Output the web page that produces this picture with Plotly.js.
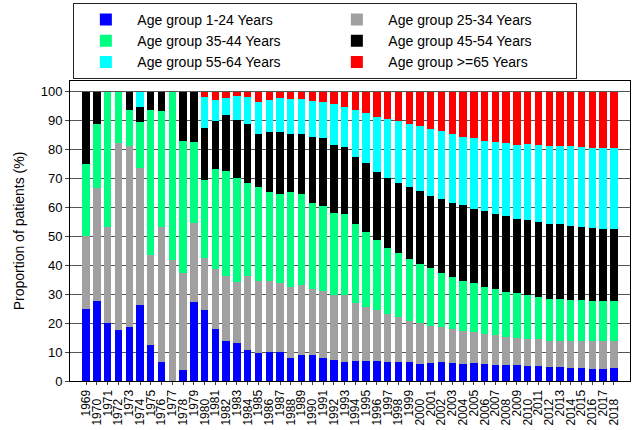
<!DOCTYPE html>
<html>
<head>
<meta charset="utf-8">
<script src="https://cdn.plot.ly/plotly-3.0.1.min.js"></script>
<style>
  html, body { margin: 0; padding: 0; background: #fff; }
  #chart { width: 639px; height: 430px; }
</style>
</head>
<body>
<div id="chart"></div>
<script>
const years = [1969,1970,1971,1972,1973,1974,1975,1976,1977,1978,
               1979,1980,1981,1982,1983,1984,1985,1986,1987,1988,
               1989,1990,1991,1992,1993,1994,1995,1996,1997,1998,
               1999,2000,2001,2002,2003,2004,2005,2006,2007,2008,
               2009,2010,2011,2012,2013,2014,2015,2016,2017,2018];

const tickLabels = ["1969","1970","1971","1972","1973","1974","1975","1976","1977","1978",
                    "1979","1980","1981","1982","1983","1984","1985","1986","1987","1988",
                    "1989","1990","1991","1992","1993","1994","1995","1996","1997","1998",
                    "1999","2000","2001","2002","2003","2004","2005","2006","2007","2008",
                    "2009","2010","2011","2012","2013","2014","2015","2016","2017","2018"];

const seriesNames = ["Age group 1-24 Years","Age group 25-34 Years","Age group 35-44 Years",
                     "Age group 45-54 Years","Age group 55-64 Years","Age group >=65 Years"];

const age1_24 = [25.0,27.8,20.0,17.6,18.8,26.3,12.5,6.7,0.0,3.7,
                 27.3,24.7,18.0,13.7,13.3,10.6,9.7,9.9,9.9,8.1,
                 8.9,8.9,7.8,7.4,6.7,7.0,6.8,6.9,6.5,6.6,
                 6.5,6.0,6.3,6.5,6.3,6.0,6.3,6.0,5.7,5.4,
                 5.4,5.3,5.1,4.7,4.7,4.6,4.5,4.3,4.3,4.4];

const age25_34 = [25.0,38.9,33.3,64.7,62.5,47.4,31.2,46.6,41.7,33.7,
                  27.3,17.7,20.8,22.5,20.8,25.6,25.0,24.8,24.0,24.5,
                  24.3,22.9,23.3,22.5,22.9,20.1,18.9,17.6,16.5,15.4,
                  14.4,14.0,12.7,12.1,11.7,11.3,10.5,10.4,10.1,9.7,
                  9.5,9.3,9.3,9.3,9.3,9.4,9.2,9.4,9.4,9.3];

const age35_44 = [25.0,22.2,46.7,17.7,12.5,15.8,50.0,40.0,58.3,45.6,
                  28.0,27.0,34.4,36.3,35.9,32.4,32.2,30.5,30.9,32.6,
                  31.6,29.7,29.3,28.3,28.3,27.3,25.9,24.1,23.0,22.2,
                  21.2,20.4,19.9,18.9,17.9,17.4,17.0,16.2,15.9,15.7,
                  15.4,15.2,14.6,14.5,14.3,14.1,14.2,14.1,14.1,14.1];

const age45_54 = [25.0,11.1,0.0,0.0,6.2,5.2,6.3,6.7,0.0,17.0,
                  17.4,18.0,16.8,19.4,20.2,20.2,18.6,20.7,21.2,20.3,
                  20.7,23.0,23.7,23.3,23.0,23.2,23.6,23.7,24.0,24.4,
                  24.8,25.2,25.0,25.4,25.6,26.0,25.8,26.2,26.2,26.2,
                  25.6,25.9,26.0,25.9,25.8,25.4,25.3,25.1,24.9,24.7];

const age55_64 = [0.0,0.0,0.0,0.0,0.0,5.3,0.0,0.0,0.0,0.0,
                  0.0,10.6,7.2,5.8,8.3,9.4,11.0,11.3,11.7,12.0,
                  12.0,12.3,12.3,14.3,13.8,16.2,17.6,18.8,20.4,21.3,
                  21.9,22.6,23.2,23.5,24.0,23.7,24.3,24.0,24.8,25.1,
                  25.6,26.1,26.5,26.9,27.2,27.6,27.8,27.8,27.9,27.9];

const age65plus = [0.0,0.0,0.0,0.0,0.0,0.0,0.0,0.0,0.0,0.0,
                   0.0,2.0,2.8,2.3,1.5,1.8,3.5,2.8,2.3,2.5,
                   2.5,3.2,3.6,4.2,5.3,6.2,7.2,8.9,9.6,10.1,
                   11.2,11.8,12.9,13.6,14.5,15.6,16.1,17.2,17.3,17.9,
                   18.5,18.2,18.5,18.7,18.7,18.9,19.0,19.3,19.4,19.6];

const allSeries = [age1_24, age25_34, age35_44, age45_54, age55_64, age65plus];
const colors = ["#0000ff","#a0a0a0","#00ff80","#000000","#00ffff","#ff0000"];

const traces = allSeries.map((vals, k) => ({
  type: "bar",
  name: seriesNames[k],
  x: years,
  y: vals,
  marker: { color: colors[k], line: { width: 0 } },
  hoverinfo: "x+y+name"
}));

// stagger every other year label (as in the original)
const PAD = "\u2007\u2009";
const staggered = tickLabels.map((t, i) => (i % 2 === 1 ? t + PAD : t));

const layout = {
  width: 639,
  height: 430,
  margin: { l: 70, r: 9, t: 81, b: 49, pad: 0 },
  paper_bgcolor: "#ffffff",
  plot_bgcolor: "#ffffff",
  barmode: "stack",
  bargap: 0.32,
  font: { family: "Liberation Sans, Arial, Helvetica, sans-serif", color: "#000", size: 13 },
  showlegend: true,
  legend: {
    orientation: "h",
    xref: "paper",
    x: 0.006, xanchor: "left",
    yref: "container",
    y: 0.993, yanchor: "top",
    bgcolor: "#ffffff",
    bordercolor: "#222",
    borderwidth: 1,
    font: { size: 14, color: "#000" },
    entrywidth: 183,
    itemwidth: 53,
    traceorder: "normal",
    tracegroupgap: 0
  },
  xaxis: {
    range: [1967.5, 2019.5],
    tickmode: "array",
    tickvals: years,
    ticktext: staggered,
    tickangle: -90,
    tickfont: { size: 12 },
    ticks: "outside",
    ticklen: 3,
    showgrid: false,
    zeroline: false,
    showline: true,
    linecolor: "#000",
    linewidth: 1,
    mirror: true,
    fixedrange: true
  },
  yaxis: {
    range: [0, 103.7],
    tickmode: "linear",
    tick0: 0,
    dtick: 10,
    tickfont: { size: 13 },
    ticks: "outside",
    ticklen: 4,
    showgrid: true,
    gridcolor: "#555",
    gridwidth: 1,
    zeroline: false,
    showline: true,
    linecolor: "#000",
    linewidth: 1,
    mirror: true,
    title: { text: "Proportion of patients (%)", font: { size: 14 }, standoff: 12 },
    fixedrange: true
  }
};

Plotly.newPlot("chart", traces, layout, { displayModeBar: false, staticPlot: true });
</script>
</body>
</html>
